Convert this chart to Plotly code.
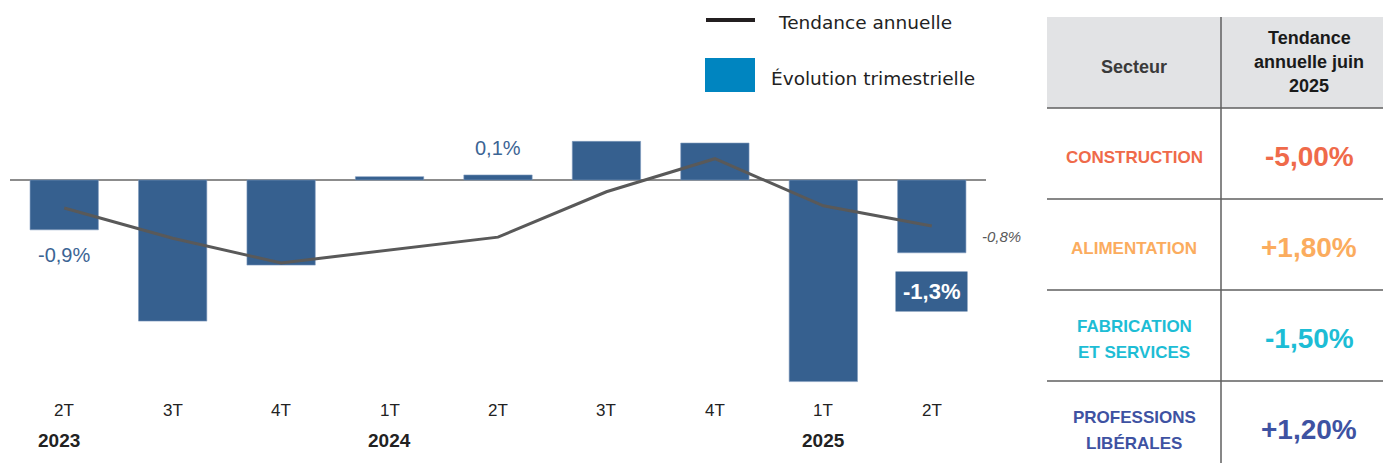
import plotly.graph_objects as go

# ---------------- data ----------------
quarters = ["2T", "3T", "4T", "1T", "2T", "3T", "4T", "1T", "2T"]
years = {0: "2023", 3: "2024", 7: "2025"}
evolution_trimestrielle = [-0.89, -2.52, -1.52, 0.06, 0.09, 0.69, 0.66, -3.6, -1.30]
tendance_annuelle = [-0.50, -1.04, -1.48, -1.25, -1.02, -0.21, 0.38, -0.46, -0.82]
bar_labels = {0: "-0,9%", 4: "0,1%"}
last_bar_label = "-1,3%"
last_line_label = "-0,8%"

sectors = [["CONSTRUCTION"], ["ALIMENTATION"], ["FABRICATION", "ET SERVICES"], ["PROFESSIONS", "LIBÉRALES"]]
sector_values = ["-5,00%", "+1,80%", "-1,50%", "+1,20%"]
sector_colors = ["#EF6A4A", "#FBAC5E", "#1DBDD5", "#3E52A2"]
header_left = "Secteur"
header_right = ["Tendance", "annuelle juin", "2025"]

# ---------------- layout helpers ----------------
W, H = 1383, 463
L, R, T, B = 10, 986, 110, 400
ZERO_PX, PX_PER_UNIT = 180, 56.0
y_top = (ZERO_PX - T) / PX_PER_UNIT
y_bot = -(B - ZERO_PX) / PX_PER_UNIT


def px(x):
    return (x - L) / (R - L)


def py(y):
    return (B - y) / (B - T)


BAR_COLOR = "#36608F"
LINE_COLOR = "#595959"
x_idx = list(range(len(quarters)))

fig = go.Figure()
fig.add_trace(go.Bar(x=x_idx, y=evolution_trimestrielle, marker=dict(color=BAR_COLOR, line=dict(color="#7F9BBE", width=0.6)),
                     width=0.63, showlegend=False, hoverinfo="skip"))
fig.add_trace(go.Scatter(x=x_idx, y=tendance_annuelle, mode="lines", line=dict(color=LINE_COLOR, width=3),
                         showlegend=False, hoverinfo="skip"))

annotations = []
shapes = []

# x tick labels (quarters) and years
for i, q in enumerate(quarters):
    annotations.append(dict(x=i, y=py(410), xref="x", yref="paper", text=q, showarrow=False,
                            font=dict(family="Liberation Sans, sans-serif", size=17, color="#222"),
                            xanchor="center", yanchor="middle"))
for i, yr in years.items():
    annotations.append(dict(x=i, y=py(440), xref="x", yref="paper", text="<b>%s</b>" % yr, showarrow=False,
                            xshift=-5 if i == 0 else 0,
                            font=dict(family="Liberation Sans, sans-serif", size=19, color="#222"),
                            xanchor="center", yanchor="middle"))

# bar data labels
for i, txt in bar_labels.items():
    v = evolution_trimestrielle[i]
    annotations.append(dict(x=i, y=v, xref="x", yref="y", text=txt, showarrow=False,
                            yshift=-25 if v < 0 else 27,
                            font=dict(family="Liberation Sans, sans-serif", size=20, color="#3B6494"),
                            xanchor="center", yanchor="middle"))
n = len(quarters) - 1
annotations.append(dict(x=n, y=evolution_trimestrielle[n], xref="x", yref="y", text="<b>%s</b>" % last_bar_label,
                        showarrow=False, yshift=-39, bgcolor=BAR_COLOR, borderpad=7,
                        font=dict(family="Liberation Sans, sans-serif", size=22, color="white"),
                        xanchor="center", yanchor="middle"))
annotations.append(dict(x=n, y=tendance_annuelle[n], xref="x", yref="y", text="<i>%s</i>" % last_line_label,
                        showarrow=False, xshift=70, yshift=-11,
                        font=dict(family="Liberation Sans, sans-serif", size=15, color="#595959"),
                        xanchor="center", yanchor="middle"))

# custom legend
shapes.append(dict(type="line", xref="paper", yref="paper", x0=px(706), x1=px(755), y0=py(20), y1=py(20),
                   line=dict(color="#231F20", width=4)))
shapes.append(dict(type="rect", xref="paper", yref="paper", x0=px(705), x1=px(755), y0=py(58), y1=py(92),
                   fillcolor="#0085C0", line=dict(width=0)))
annotations.append(dict(x=px(776), y=py(22), xref="paper", yref="paper", text="Tendance annuelle", showarrow=False,
                        font=dict(family="DejaVu Sans, sans-serif", size=18.5, color="#222"), xanchor="left", yanchor="middle"))
annotations.append(dict(x=px(769), y=py(78), xref="paper", yref="paper", text="Évolution trimestrielle", showarrow=False,
                        font=dict(family="DejaVu Sans, sans-serif", size=18.5, color="#222"), xanchor="left", yanchor="middle"))

# table
TL, TR, TM = 1047, 1383, 1221
shapes.append(dict(type="rect", xref="paper", yref="paper", x0=px(TL), x1=px(TR), y0=py(17), y1=py(108),
                   fillcolor="#E2E3E5", line=dict(width=0), layer="below"))
for yy in [108, 199, 290, 381]:
    shapes.append(dict(type="line", xref="paper", yref="paper", x0=px(TL), x1=px(TR), y0=py(yy), y1=py(yy),
                       line=dict(color="#5F5F5F", width=1.5)))
shapes.append(dict(type="line", xref="paper", yref="paper", x0=px(TM), x1=px(TM), y0=py(17), y1=py(463),
                   line=dict(color="#5F5F5F", width=1.5)))

tfont = "Liberation Sans, sans-serif"
annotations.append(dict(x=px(1134), y=py(67), xref="paper", yref="paper", text="<b>%s</b>" % header_left,
                        showarrow=False, font=dict(family=tfont, size=18, color="#3A3A3A"),
                        xanchor="center", yanchor="middle"))
for k, line in enumerate(header_right):
    annotations.append(dict(x=px(1309), y=py(38 + 24 * k), xref="paper", yref="paper", text="<b>%s</b>" % line,
                            showarrow=False, font=dict(family=tfont, size=18, color="#1A1A1A"),
                            xanchor="center", yanchor="middle"))

row_centers = [153.5, 244.5, 335.5, 426.5]
for r, (lines, val, col) in enumerate(zip(sectors, sector_values, sector_colors)):
    c = row_centers[r]
    nl = len(lines)
    for k, line in enumerate(lines):
        yy = c + 4 + (k - (nl - 1) / 2) * 26
        annotations.append(dict(x=px(1134), y=py(yy), xref="paper", yref="paper", text="<b>%s</b>" % line,
                                showarrow=False, font=dict(family=tfont, size=17, color=col),
                                xanchor="center", yanchor="middle"))
    annotations.append(dict(x=px(1309), y=py(c + 3), xref="paper", yref="paper", text="<b>%s</b>" % val,
                            showarrow=False, font=dict(family=tfont, size=28, color=col),
                            xanchor="center", yanchor="middle"))

fig.update_layout(
    width=W, height=H,
    margin=dict(l=L, r=W - R, t=T, b=H - B),
    paper_bgcolor="white", plot_bgcolor="white",
    bargap=0.37,
    xaxis=dict(range=[-0.5, 8.5], showticklabels=False, showgrid=False, zeroline=False, showline=False),
    yaxis=dict(range=[y_bot, y_top], showticklabels=False, showgrid=False, zeroline=True,
               zerolinecolor="#8C8C8C", zerolinewidth=1.5, showline=False),
    annotations=annotations,
    shapes=shapes,
)

fig.write_html("out.html", config={"displayModeBar": False},
               post_script="document.body.style.margin='0';document.body.style.overflow='hidden';")
